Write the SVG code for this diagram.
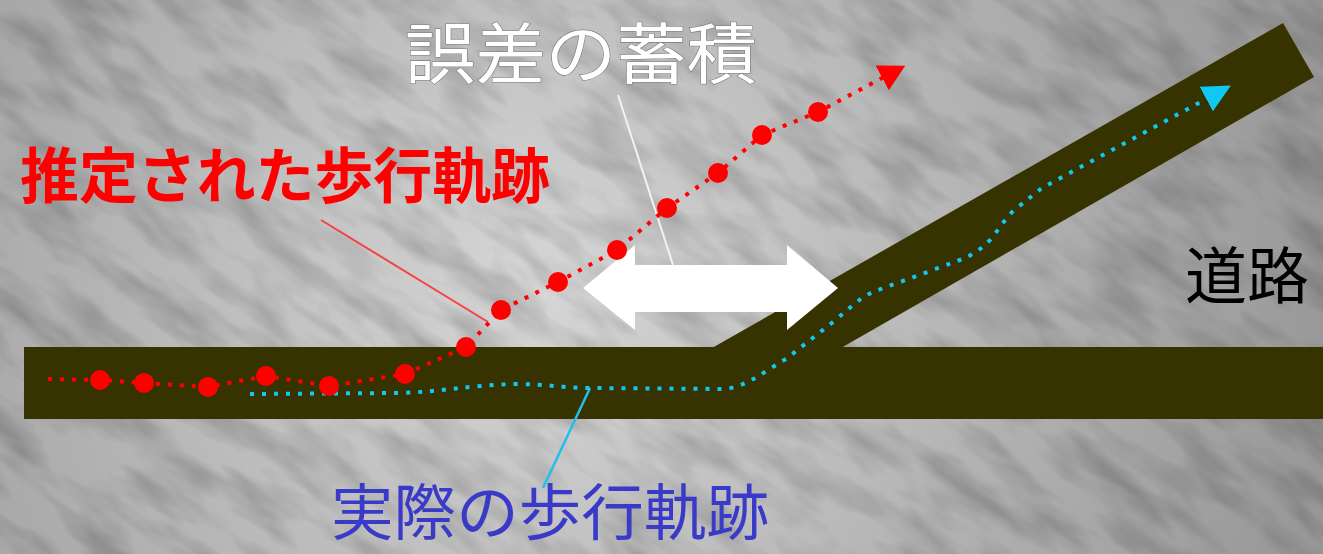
<svg xmlns="http://www.w3.org/2000/svg" width="1323" height="554" viewBox="0 0 1323 554">
  <style>
    .road { fill: #373300; }
    .est { fill: none; stroke: #ff0000; stroke-width: 4; stroke-dasharray: 4 8; }
    .act { fill: none; stroke: #10c8f4; stroke-width: 4; stroke-dasharray: 4 8; }
    .dot { fill: #ff0000; }
    .lbl { font-family: "Noto Sans CJK JP", "Noto Sans", sans-serif; }
    .lead { fill: none; }
  </style>
  <defs>
    <radialGradient id="bg" gradientUnits="userSpaceOnUse" cx="540" cy="290" r="820">
      <stop offset="0" stop-color="#d6d6d6"/>
      <stop offset="0.45" stop-color="#bababa"/>
      <stop offset="1" stop-color="#969696"/>
    </radialGradient>
    <filter id="grain" filterUnits="objectBoundingBox" x="0" y="0" width="1" height="1">
      <feTurbulence type="fractalNoise" baseFrequency="0.012 0.035" numOctaves="3" seed="7" result="n"/>
      <feColorMatrix in="n" type="matrix" values="0 0 0 0 0  0 0 0 0 0  0 0 0 0 0  -2.4 0 0 0 1.45"/>
    </filter>
    <marker id="redHead" markerUnits="userSpaceOnUse" viewBox="0 0 26 28" refX="2" refY="14" markerWidth="26" markerHeight="28" orient="auto">
      <path d="M0,0 L26,14 L0,28 z" fill="#ff0000"/>
    </marker>
    <marker id="cyanHead" markerUnits="userSpaceOnUse" viewBox="0 0 28 28" refX="2" refY="14" markerWidth="28" markerHeight="28" orient="auto">
      <path d="M0,0 L28,14 L0,28 z" fill="#10c8f4"/>
    </marker>
  </defs>

  <g id="background">
    <rect x="0" y="0" width="1323" height="554" fill="url(#bg)"/>
    <g opacity="0.17" transform="rotate(35 661 277)">
      <rect x="-500" y="-700" width="2400" height="1900" fill="#000" filter="url(#grain)"/>
    </g>
  </g>

  <g id="road">
    <rect class="road" x="24" y="347" width="1299" height="72"/>
    <polygon class="road" points="712,348 1283,23 1314,77 841,348"/>
  </g>

  <g id="error-arrow">
    <polygon fill="#ffffff" points="583,288 635,245 635,265 787,265 787,245 838,288 787,330 787,312 635,312 635,330"/>
  </g>

  <g id="connectors">
    <line class="lead" x1="618" y1="95" x2="673" y2="265" stroke="#f2f2f2" stroke-width="2"/>
    <line class="lead" x1="321" y1="220" x2="488" y2="322" stroke="#ff2a2a" stroke-width="2" opacity="0.85"/>
    <line class="lead" x1="590" y1="388" x2="543" y2="488" stroke="#20c0ec" stroke-width="2.5"/>
  </g>

  <g id="actual-trajectory">
    <path class="act" marker-end="url(#cyanHead)" d="M250,394 L400,393 C440,392 470,385 517,384 C545,384 565,388 590,388 L722,389 C745,388 760,374 786,359 L833,322 C850,308 860,298 871,293 C890,285 915,277 938,268 C960,260 975,256 990,240 C1000,228 1008,214 1018,207 C1030,198 1035,193 1042,188 L1208,98"/>
  </g>

  <g id="estimated-trajectory">
    <polyline class="est" marker-end="url(#redHead)" points="48,379 100,380 144,383 208,387 266,376 329,386 405,374 466,347 501,310 558,282 617,250 667,208 718,173 762,135 818,112 884,77"/>
    <circle class="dot" cx="100" cy="380" r="10"/>
    <circle class="dot" cx="144" cy="383" r="10"/>
    <circle class="dot" cx="208" cy="387" r="10"/>
    <circle class="dot" cx="266" cy="376" r="10"/>
    <circle class="dot" cx="329" cy="386" r="10"/>
    <circle class="dot" cx="405" cy="374" r="10"/>
    <circle class="dot" cx="466" cy="347" r="10"/>
    <circle class="dot" cx="501" cy="310" r="10"/>
    <circle class="dot" cx="558" cy="282" r="10"/>
    <circle class="dot" cx="617" cy="250" r="10"/>
    <circle class="dot" cx="667" cy="208" r="10"/>
    <circle class="dot" cx="718" cy="173" r="10"/>
    <circle class="dot" cx="762" cy="135" r="10"/>
    <circle class="dot" cx="818" cy="112" r="10"/>
  </g>

  <g id="label-error">
    <text class="lbl" x="581" y="78" font-size="66" text-anchor="middle" fill="#ffffff" stroke="#7a7a7a" stroke-width="1.2" paint-order="stroke" textLength="352" lengthAdjust="spacingAndGlyphs">誤差の蓄積</text>
  </g>
  <g id="label-estimated">
    <text class="lbl" x="20" y="198" font-size="60" font-weight="bold" fill="#ff0000" textLength="530" lengthAdjust="spacingAndGlyphs">推定された歩行軌跡</text>
  </g>
  <g id="label-actual">
    <text class="lbl" x="331" y="535" font-size="61" fill="#3a3ac8" textLength="438" lengthAdjust="spacingAndGlyphs">実際の歩行軌跡</text>
  </g>
  <g id="label-road">
    <text class="lbl" x="1185" y="299" font-size="62" fill="#000000">道路</text>
  </g>
</svg>
